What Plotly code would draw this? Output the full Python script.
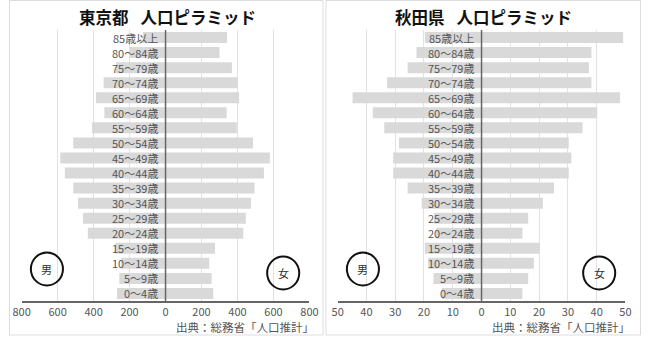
import plotly.graph_objects as go

W, H = 650, 338

age_groups = ["0～4歳", "5～9歳", "10～14歳", "15～19歳", "20～24歳", "25～29歳",
              "30～34歳", "35～39歳", "40～44歳", "45～49歳", "50～54歳", "55～59歳",
              "60～64歳", "65～69歳", "70～74歳", "75～79歳", "80～84歳", "85歳以上"]

tokyo_male = [270, 257, 248, 279, 432, 459, 486, 513, 560, 585, 513, 409, 340, 387, 344, 275, 200, 125]
tokyo_female = [265, 256, 243, 275, 432, 446, 475, 495, 547, 580, 486, 396, 340, 409, 400, 369, 300, 342]
akita_male = [13.8, 16.7, 18.6, 19.7, 15.8, 16.5, 20.8, 25.7, 30.7, 30.7, 28.7, 33.8, 37.8, 44.8, 32.8, 25.7, 22.6, 19.7]
akita_female = [14.2, 16.2, 18.2, 20.2, 14.2, 16.2, 21.3, 25.2, 30.3, 31.2, 30.3, 35.1, 40.2, 48.1, 38.2, 37.3, 38.2, 49.2]

tokyo_ticks = [-800, -600, -400, -200, 0, 200, 400, 600, 800]
akita_ticks = [-50, -40, -30, -20, -10, 0, 10, 20, 30, 40, 50]

titles = ["東京都\u2002 人口ピラミッド", "秋田県\u2002 人口ピラミッド"]
source = "出典：総務省「人口推計」"

FONT = "Noto Sans CJK JP"
BAR = "#d9d9d9"
GRID = "#e2e2e2"
AXIS = "#666666"
TXT = "#555555"

def px(x):
    return x / W

def py(y):
    return 1 - y / H

fig = go.Figure()

panels = [
    dict(male=tokyo_male, female=tokyo_female, ticks=tokyo_ticks, rng=800,
         xa="x", ya="y", dom=(13, 309), off=0),
    dict(male=akita_male, female=akita_female, ticks=akita_ticks, rng=50,
         xa="x2", ya="y2", dom=(338, 634), off=325),
]

ydom = [py(301), py(30)]
layout_axes = {}
annotations = []
shapes = []

for i, p in enumerate(panels):
    fig.add_trace(go.Bar(y=age_groups, x=[-v for v in p["male"]], orientation="h",
                         marker=dict(color=BAR, line=dict(width=0)),
                         xaxis=p["xa"], yaxis=p["ya"], showlegend=False))
    fig.add_trace(go.Bar(y=age_groups, x=p["female"], orientation="h",
                         marker=dict(color=BAR, line=dict(width=0)),
                         xaxis=p["xa"], yaxis=p["ya"], showlegend=False))
    sfx = "" if i == 0 else "2"
    layout_axes["xaxis" + sfx] = dict(
        domain=[px(p["dom"][0]), px(p["dom"][1])], range=[-p["rng"], p["rng"]],
        anchor=p["ya"], tickvals=p["ticks"], ticktext=[str(abs(t)) for t in p["ticks"]],
        showgrid=True, gridcolor=GRID, gridwidth=1,
        zeroline=False,
        showline=True, linecolor=AXIS, linewidth=1.5, ticks="",
        tickfont=dict(family=FONT, size=11, color=TXT), fixedrange=True)
    layout_axes["yaxis" + sfx] = dict(
        domain=ydom, anchor=p["xa"], type="category", categoryorder="array",
        categoryarray=age_groups, range=[-0.5, len(age_groups) - 0.5],
        showticklabels=False, showgrid=False, zeroline=False, ticks="", fixedrange=True)
    # center axis line at zero, above bars
    shapes.append(dict(type="line", xref=p["xa"], yref=p["ya"] + " domain",
                       x0=0, x1=0, y0=0, y1=1, layer="above",
                       line=dict(color=AXIS, width=1.5)))
    for g in age_groups:
        annotations.append(dict(x=0, y=g, xref=p["xa"], yref=p["ya"], text=g,
                                xanchor="right", yanchor="middle", xshift=-6, showarrow=False,
                                font=dict(family=FONT, size=11, color=TXT)))
    off = p["off"]
    # title
    annotations.append(dict(x=px(163 + off), y=py(17), xref="paper", yref="paper",
                            text="<b>" + titles[i] + "</b>", showarrow=False,
                            xanchor="center", yanchor="middle",
                            font=dict(family=FONT, size=16.5, color="#111111")))
    # source
    annotations.append(dict(x=px(316 + off), y=py(327), xref="paper", yref="paper",
                            text=source, showarrow=False, xanchor="right", yanchor="middle",
                            font=dict(family=FONT, size=11.5, color=TXT)))
    # circles
    for (cx, cy, lab) in [(39 + off, 269, "男"), (282 + off, 273, "女")]:
        r = 16.5
        shapes.append(dict(type="circle", xref="paper", yref="paper",
                           x0=px(cx - r), x1=px(cx + r), y0=py(cy + r), y1=py(cy - r),
                           line=dict(color="#111111", width=2), fillcolor="rgba(0,0,0,0)"))
        annotations.append(dict(x=px(cx), y=py(cy), xref="paper", yref="paper", text=lab,
                                showarrow=False, xanchor="center", yanchor="middle",
                                font=dict(family=FONT, size=11, color="#333333")))
    # panel border
    x0 = 0.5 if i == 0 else 326
    x1 = 323 if i == 0 else 649.5
    shapes.append(dict(type="rect", xref="paper", yref="paper",
                       x0=px(x0), x1=px(x1), y0=py(335), y1=py(0.5),
                       line=dict(color="#dddddd", width=1), fillcolor="rgba(0,0,0,0)", layer="below"))

fig.update_layout(
    width=W, height=H, margin=dict(l=0, r=0, t=0, b=0),
    paper_bgcolor="white", plot_bgcolor="white",
    barmode="overlay", bargap=0.27,
    annotations=annotations, shapes=shapes, **layout_axes)

fig.write_html("out.html")
